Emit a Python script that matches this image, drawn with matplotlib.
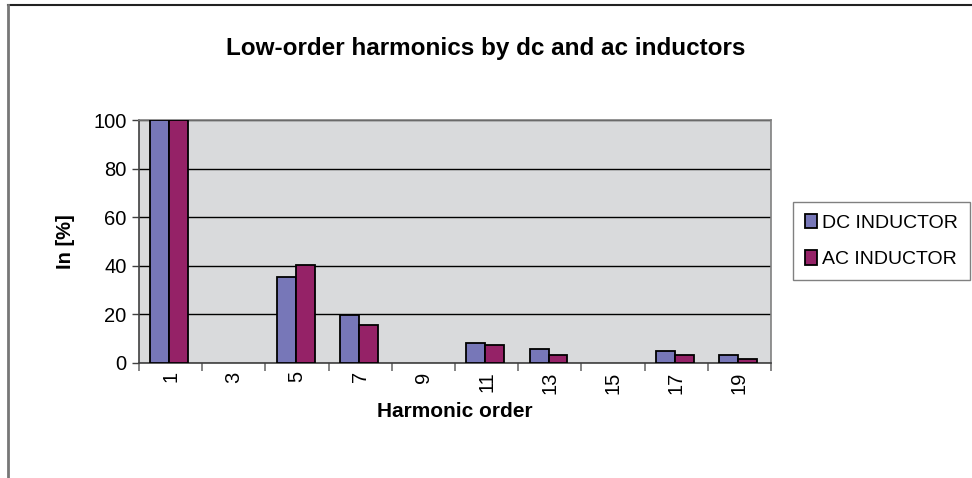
import matplotlib.pyplot as plt
import numpy as np
from matplotlib.lines import Line2D

plt.rcParams['font.family'] = ['Liberation Sans', 'DejaVu Sans']

orders = ['1', '3', '5', '7', '9', '11', '13', '15', '17', '19']
dc_inductor = [100, 0, 35.2, 19.8, 0, 8.2, 5.9, 0, 4.9, 3.3]
ac_inductor = [100, 0, 40.2, 15.6, 0, 7.4, 3.3, 0, 3.3, 1.6]

dc_color = '#7777b8'
ac_color = '#952267'

fig = plt.figure(figsize=(9.72, 4.78), dpi=100)
# plot area in pixels: x 139..771, y 120..363
ax = fig.add_axes([139 / 972, 1 - 363 / 478, 632 / 972, 243 / 478])

x = np.arange(len(orders))
w = 0.3
bars_dc = ax.bar(x - w / 2 - 0.02, dc_inductor, w, color=dc_color, edgecolor='black',
                 linewidth=1.3, label='DC INDUCTOR', zorder=3)
bars_ac = ax.bar(x + w / 2 - 0.02, ac_inductor, w, color=ac_color, edgecolor='black',
                 linewidth=1.3, label='AC INDUCTOR', zorder=3)
# excel draws nothing for empty values
for b in list(bars_dc) + list(bars_ac):
    if b.get_height() == 0:
        b.set_visible(False)

ax.set_facecolor('#d9dadc')
ax.set_xlim(-0.5, len(orders) - 0.5)
ax.set_ylim(0, 100)
ax.set_yticks(range(0, 101, 20))
ax.yaxis.grid(True, color='black', linewidth=1, zorder=1)
ax.set_axisbelow(True)

ax.set_xticks(x)
ax.set_xticklabels(orders, rotation=90, fontsize=14.5)
ax.set_xticks(np.arange(-0.5, len(orders)), minor=True)
ax.tick_params(axis='x', which='major', length=0, pad=6)
ax.tick_params(axis='x', which='minor', length=6, width=1.2, color='#707070', direction='out')
ax.tick_params(axis='y', length=5, width=1, color='#404040', labelsize=14.5, pad=4)

for name, sp in ax.spines.items():
    sp.set_color('#808080')
    sp.set_linewidth(1.2)
ax.spines['bottom'].set_color('#404040')
ax.spines['left'].set_color('#404040')

ax.set_xlabel('Harmonic order', fontsize=15, fontweight='bold', labelpad=6)
ax.set_ylabel('In [%]', fontsize=14.5, fontweight='bold', labelpad=13)

fig.text(0.5, 1 - 48 / 478, 'Low-order harmonics by dc and ac inductors',
         ha='center', va='center', fontsize=17.5, fontweight='bold')

leg = ax.legend(loc='center left', bbox_to_anchor=(793 / 972, 1 - 241 / 478),
                bbox_transform=fig.transFigure, fontsize=14, frameon=True,
                fancybox=False, edgecolor='#606060', handlelength=0.65,
                handleheight=0.8, handletextpad=0.25, labelspacing=0.95,
                borderpad=0.6, borderaxespad=0)
leg.get_frame().set_linewidth(1.0)

# outer chart area border (only top and left visible in the crop)
fig.add_artist(Line2D([8 / 972, 1], [1 - 5 / 478, 1 - 5 / 478], color='#222222', lw=1.5,
                      transform=fig.transFigure))
fig.add_artist(Line2D([8 / 972, 8 / 972], [0, 1 - 5 / 478], color='#777777', lw=2,
                      transform=fig.transFigure))

fig.savefig('out.png', dpi=100)
